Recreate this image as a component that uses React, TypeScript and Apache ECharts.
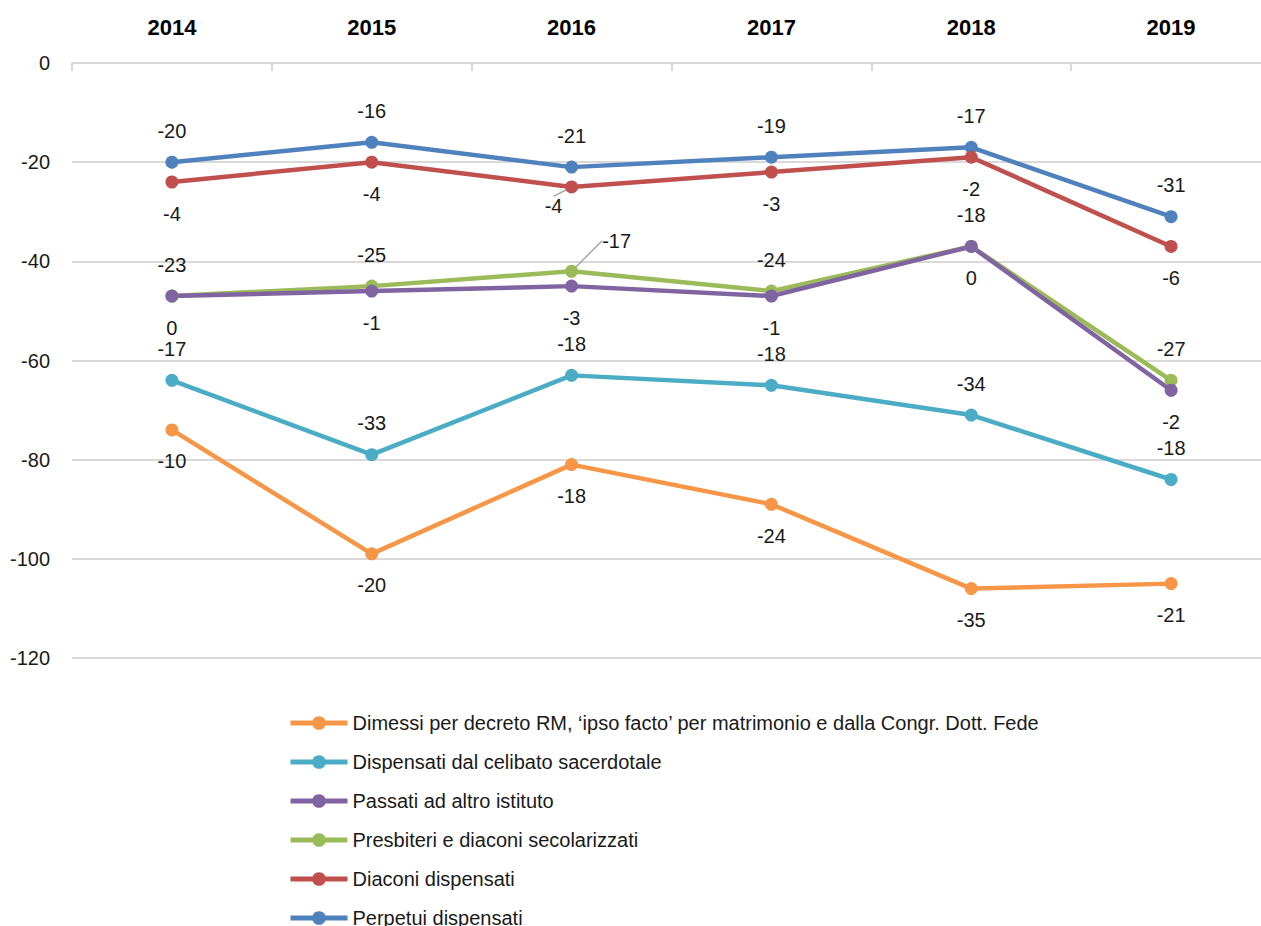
import React, { useEffect, useRef } from "react";
import * as echarts from "echarts";

const years = ["2014", "2015", "2016", "2017", "2018", "2019"];
const perpetui = [-20, -16, -21, -19, -17, -31];
const diaconi = [-4, -4, -4, -3, -2, -6];
const presbiteri = [-23, -25, -17, -24, -18, -27];
const passati = [0, -1, -3, -1, 0, -2];
const dispensati = [-17, -33, -18, -18, -34, -18];
const dimessi = [-10, -20, -18, -24, -35, -21];

const names = {
  dimessi: "Dimessi per decreto RM, \u2018ipso facto\u2019 per matrimonio e dalla Congr. Dott. Fede",
  dispensati: "Dispensati dal celibato sacerdotale",
  passati: "Passati ad altro istituto",
  presbiteri: "Presbiteri e diaconi secolarizzati",
  diaconi: "Diaconi dispensati",
  perpetui: "Perpetui dispensati",
};

const FONT = "'Liberation Sans', Arial, sans-serif";

function mk(name: string, data: number[], color: string, pos: "top" | "bottom", special?: { idx: number; dx: number; dy: number }) {
  return {
    name,
    type: "line",
    stack: "total",
    data: data.map((v, i) =>
      special && special.idx === i
        ? { value: v, labelLine: { show: true, lineStyle: { color: "#a6a6a6", width: 1.5 } } }
        : v
    ),
    color,
    symbol: "circle",
    symbolSize: 13,
    lineStyle: { width: 4.5, color },
    itemStyle: { color },
    label: {
      show: true,
      position: pos,
      distance: 15,
      color: "#1a1a1a",
      fontSize: 20,
      fontFamily: FONT,
    },
    labelLayout: special
      ? (p: any) => (p.dataIndex === special.idx ? { dx: special.dx, dy: special.dy } : {})
      : undefined,
  };
}

export default function App() {
  const ref = useRef<HTMLDivElement>(null);
  useEffect(() => {
    const chart = echarts.init(ref.current!, null, { renderer: "svg" });
    chart.setOption({
      animation: false,
      textStyle: { fontFamily: FONT },
      grid: { left: 72, right: -10, top: 63, bottom: 268, outerBoundsMode: "none", containLabel: false },
      legend: {
        orient: "vertical",
        left: 283,
        top: 708,
        height: 400,
        itemWidth: 57,
        itemHeight: 17,
        itemGap: 19,
        lineStyle: { width: 5 },
        textStyle: { fontSize: 20, color: "#1a1a1a", fontFamily: FONT },
        data: [names.dimessi, names.dispensati, names.passati, names.presbiteri, names.diaconi, names.perpetui],
      },
      xAxis: {
        type: "category",
        position: "top",
        data: years,
        boundaryGap: true,
        axisLine: { lineStyle: { color: "#d9d9d9", width: 2 } },
        axisTick: { show: true, inside: true, length: 8, lineStyle: { color: "#d9d9d9", width: 2 } },
        axisLabel: { fontSize: 22, fontWeight: "bold", color: "#000", margin: 25, fontFamily: FONT },
        splitLine: { show: false },
      },
      yAxis: {
        type: "value",
        min: -120,
        max: 0,
        interval: 20,
        axisLine: { show: false },
        axisTick: { show: false },
        axisLabel: { fontSize: 20, color: "#1a1a1a", margin: 22, fontFamily: FONT },
        splitLine: { lineStyle: { color: "#d9d9d9", width: 2 } },
      },
      series: [
        mk(names.perpetui, perpetui, "#4F81BD", "top"),
        mk(names.diaconi, diaconi, "#C0504D", "bottom", { idx: 2, dx: -18, dy: -12 }),
        mk(names.presbiteri, presbiteri, "#9BBB59", "top", { idx: 2, dx: 45, dy: 1 }),
        mk(names.passati, passati, "#8064A2", "bottom"),
        mk(names.dispensati, dispensati, "#4BACC6", "top"),
        mk(names.dimessi, dimessi, "#F79646", "bottom"),
      ],
    });
    return () => chart.dispose();
  }, []);
  return (
    <div
      ref={ref}
      style={{ position: "fixed", left: 0, top: 0, width: 1261, height: 926, background: "#fff" }}
    />
  );
}
